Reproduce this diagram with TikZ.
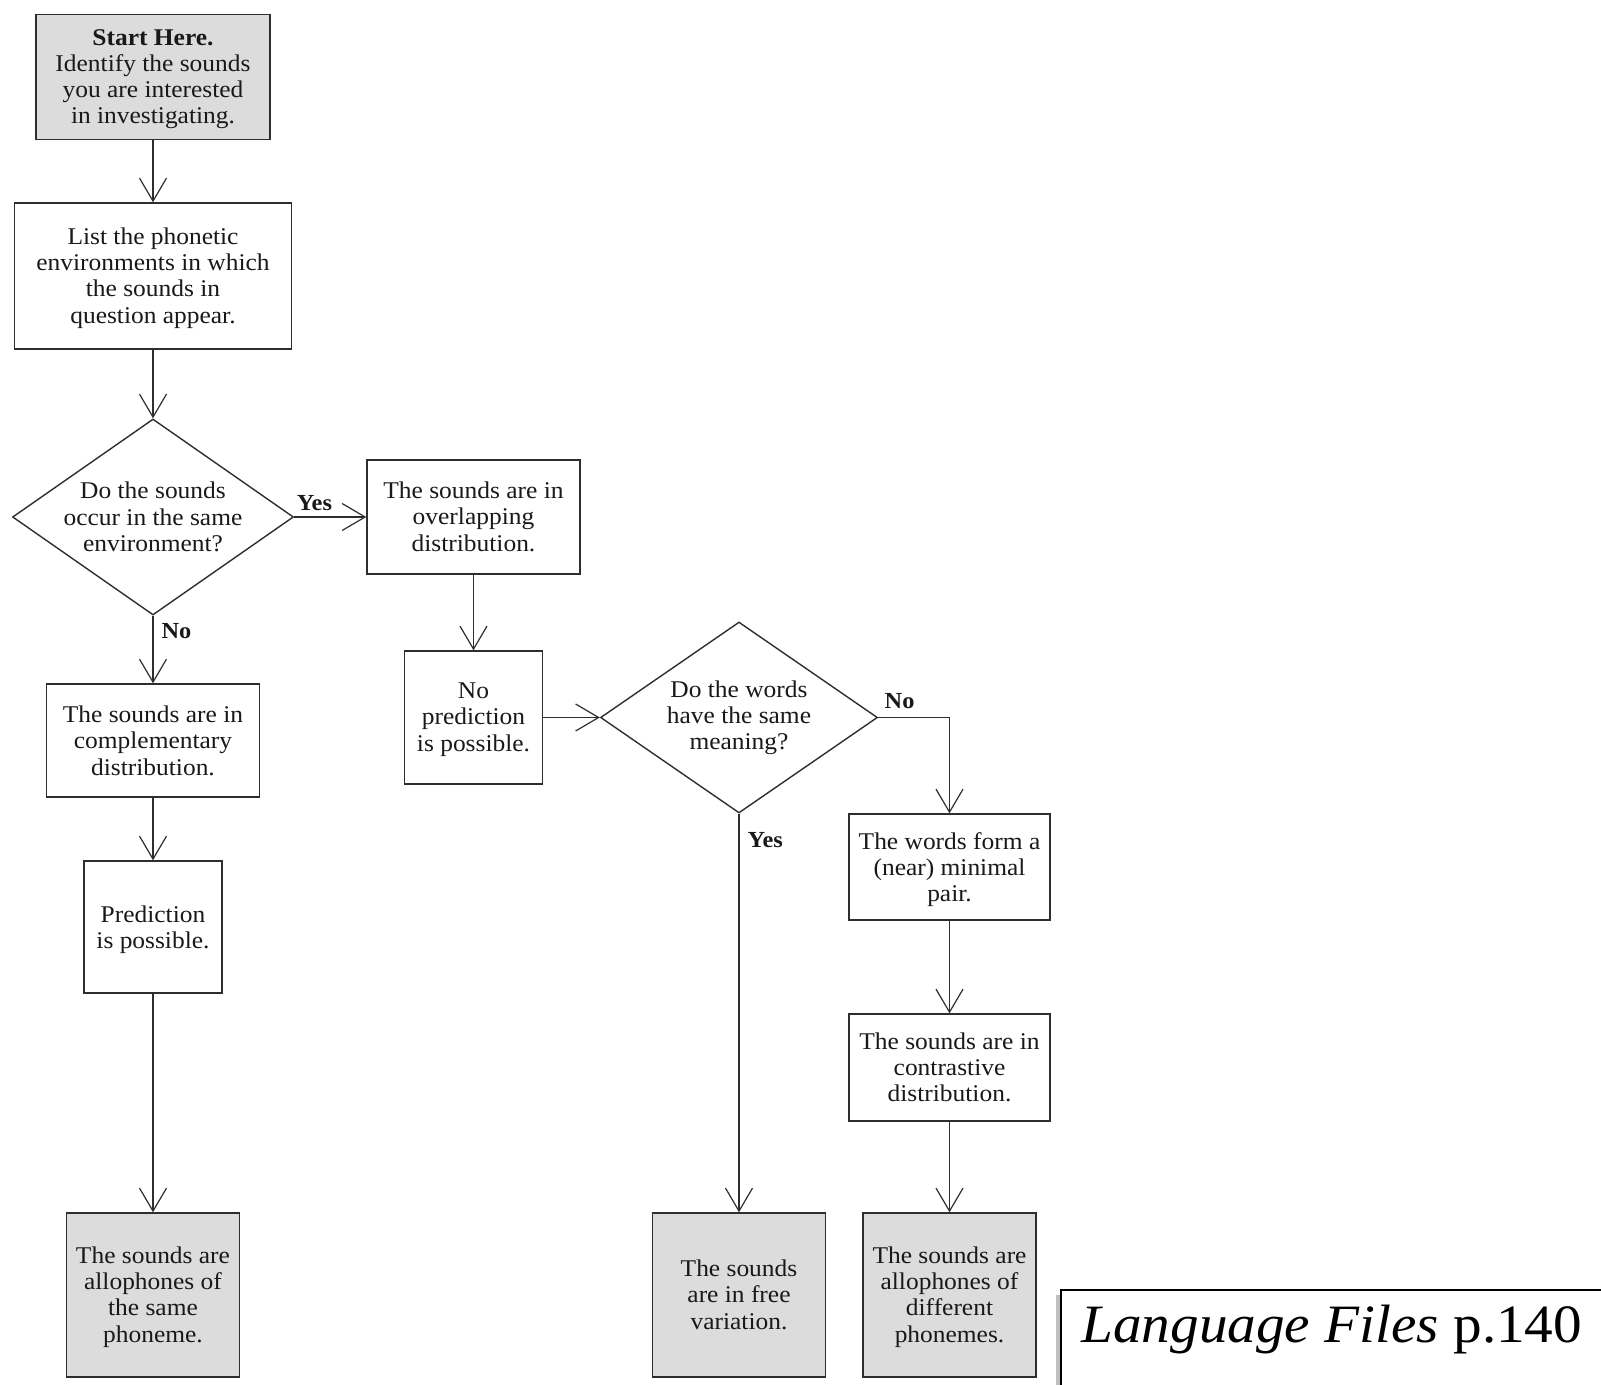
\documentclass[tikz,border=0pt]{standalone}
\usepackage{fontspec}
\setmainfont{Liberation Serif}[FakeStretch=1.06]
\usetikzlibrary{shapes.geometric,arrows.meta}

\definecolor{cajagris}{HTML}{DCDCDC}
\definecolor{linea}{HTML}{2E2E2E}

\begin{document}
\begin{tikzpicture}[x=0.5pt,y=-0.5pt,
    caja/.style={draw=linea,line width=0.7pt,rectangle,align=center,inner sep=0pt,
        font=\fontsize{12}{13.1}\selectfont,text=black!90,text depth=0.5pt},
    final/.style={caja,fill=cajagris,minimum width=86.5pt,minimum height=82pt},
    rombo/.style={caja,diamond,aspect=1.43,inner sep=-4pt,text depth=},
    flecha/.style={draw=linea,line width=0.6pt,-{Straight Barb[length=11.5pt,width=13.5pt,line width=0.6pt]}},
    etiq/.style={font=\fontsize{11.5}{13}\selectfont\bfseries,inner sep=0pt,text=black!90}]

    \useasboundingbox (0,0) rectangle (1601,1385);

    % Columna izquierda
    \node[caja,fill=cajagris,minimum width=117pt,minimum height=62.5pt] (start) at (153,77)
        {\textbf{Start Here.}\\Identify the sounds\\you are interested\\in investigating.};
    \node[caja,minimum width=138.5pt,minimum height=73pt] (list) at (153,276)
        {List the phonetic\\environments in which\\the sounds in\\question appear.};
    \node[rombo,minimum width=140.5pt,minimum height=98pt] (same) at (153,517)
        {Do the sounds\\occur in the same\\environment?};
    \node[caja,minimum width=106.5pt,minimum height=56.5pt,text depth=-4.5pt] (compl) at (153,740.5)
        {The sounds are in\\complementary\\distribution.};
    \node[caja,minimum width=69pt,minimum height=66pt,text depth=-2pt] (pred) at (153,927)
        {Prediction\\is possible.};
    \node[final] (samephon) at (153,1295)
        {The sounds are\\allophones of\\the same\\phoneme.};

    % Columna central
    \node[caja,minimum width=106.5pt,minimum height=57pt] (overlap) at (473.5,517)
        {The sounds are in\\overlapping\\distribution.};
    \node[caja,minimum width=69pt,minimum height=66.5pt] (nopred) at (473.5,717.5)
        {No\\prediction\\is possible.};
    \node[rombo,aspect=1.45,minimum width=138.5pt,minimum height=95.5pt] (meaning) at (739,717.5)
        {Do the words\\have the same\\meaning?};
    \node[final] (free) at (739,1295)
        {The sounds\\are in free\\variation.};

    % Columna derecha
    \node[caja,minimum width=100.5pt,minimum height=53pt,text depth=-5.5pt] (pair) at (949.5,867)
        {The words form a\\(near) minimal\\pair.};
    \node[caja,minimum width=100.5pt,minimum height=53.5pt] (contr) at (949.5,1067.5)
        {The sounds are in\\contrastive\\distribution.};
    \node[final] (diffphon) at (949.5,1295)
        {The sounds are\\allophones of\\different\\phonemes.};

    % Flechas
    \draw[flecha] (start) -- (list);
    \draw[flecha] (list) -- (same);
    \draw[flecha] (same.east) -- node[etiq,pos=0.28,above=3pt] {Yes} (overlap.west);
    \draw[flecha] (same.south) -- node[etiq,pos=0.23,right=4pt] {No} (compl.north);
    \draw[flecha] (compl) -- (pred);
    \draw[flecha] (pred) -- (samephon);
    \draw[flecha] (overlap) -- (nopred);
    \draw[flecha] (nopred.east) -- (meaning.west);
    \draw[flecha] (meaning.east) -| node[etiq,pos=0.15,above=4pt] {No} (pair.north);
    \draw[flecha] (meaning.south) -- node[etiq,pos=0.065,right=4pt] {Yes} (free.north);
    \draw[flecha] (pair) -- (contr);
    \draw[flecha] (contr) -- (diffphon);

    % Referencia
    \draw[black!25,line width=2pt] (1058,1295) -- (1058,1400);
    \draw[line width=1pt] (1061,1290) rectangle (1660,1440);
    \node[anchor=base west,inner sep=0pt,font=\fontsize{27}{30}\selectfont] (fuente) at (1081,1342)
        {\textit{Language Files} p.140};

\end{tikzpicture}
\end{document}
